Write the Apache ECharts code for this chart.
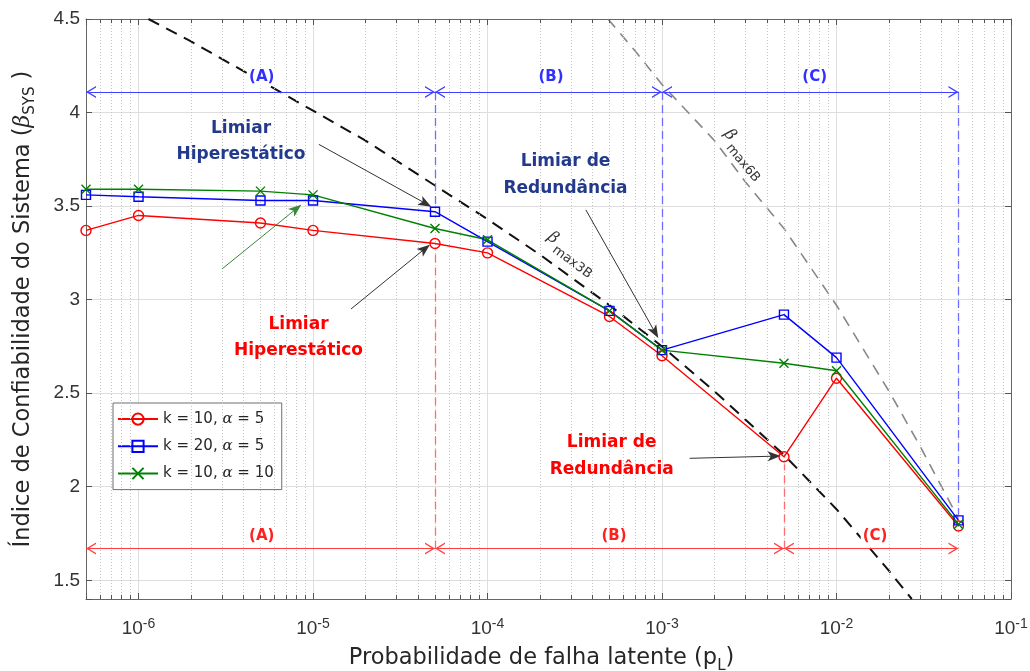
<!DOCTYPE html>
<html><head><meta charset="utf-8">
<script src="https://cdn.jsdelivr.net/npm/echarts@6/dist/echarts.min.js"></script>
<style>html,body{margin:0;padding:0;background:#fff}#c{width:1030px;height:671px}</style>
</head><body><div id="c"></div>
<script>
// ---------- data ----------
const pL = [5e-7, 1e-6, 5e-6, 1e-5, 5e-5, 1e-4, 5e-4, 1e-3, 5e-3, 1e-2, 5e-2];
const betaK10A5  = [3.37, 3.45, 3.41, 3.37, 3.30, 3.25, 2.91, 2.70, 2.16, 2.58, 1.79];
const betaK20A5  = [3.56, 3.55, 3.53, 3.53, 3.47, 3.31, 2.94, 2.73, 2.92, 2.69, 1.82];
const betaK10A10 = [3.59, 3.59, 3.58, 3.56, 3.38, 3.32, 2.94, 2.73, 2.66, 2.62, 1.80];
const seriesNames = ['k = 10, α = 5', 'k = 20, α = 5', 'k = 10, α = 10'];
const legendLabels = ['k = 10, {i|α} = 5', 'k = 20, {i|α} = 5', 'k = 10, {i|α} = 10'];

const max3B_p    = [1.14e-6, 2e-6, 5e-6, 1e-5, 2e-5, 5e-5, 1e-4, 2e-4, 5e-4, 1e-3, 2e-3, 5e-3, 1e-2, 2e-2, 2.7e-2];
const max3B_beta = [4.50, 4.38, 4.17, 4.01, 3.85, 3.61, 3.43, 3.24, 2.97, 2.75, 2.51, 2.17, 1.88, 1.55, 1.40];
const max6B_p    = [4.9e-4, 7e-4, 1e-3, 2e-3, 3e-3, 5e-3, 1e-2, 2e-2, 3e-2, 5e-2];
const max6B_beta = [4.50, 4.33, 4.15, 3.85, 3.63, 3.38, 2.97, 2.51, 2.22, 1.83];

const yTickLabels = [1.5, 2, 2.5, 3, 3.5, 4, 4.5];

// regions
const blueBounds = [5e-7, 5e-5, 1e-3, 5e-2];
const redBounds  = [5e-7, 5e-5, 5e-3, 5e-2];
const regionNames = ['(A)', '(B)', '(C)'];
const blueArrowBeta = 4.11, redArrowBeta = 1.67;
const blueDashEnds = [3.49, 2.77, 1.85];   // at blueBounds[1..3]
const redDashEnds  = [3.27, 2.12];         // at redBounds[1..2]

// annotation arrows: [fromP, fromBeta, toP, toBeta]
const annoArrows = [
  [1.08e-5, 3.83, 4.7e-5, 3.50],
  [3.66e-4, 3.48, 9.45e-4, 2.80],
  [1.65e-5, 2.95, 4.62e-5, 3.29],
  [1.44e-3, 2.152, 4.72e-3, 2.164]
];
const greenArrow = [3.01e-6, 3.164, 8.47e-6, 3.504];

// ---------- setup ----------
const FONT = 'DejaVu Sans';
const TICKFONT = 'Liberation Sans';
const X_MIN = 5e-7, X_MAX = 0.1, Y_MIN = 1.4, Y_MAX = 4.5;
const RED = '#ff0000', BLUE = '#0000ff', GREEN = '#008000';
const zip = (xs, ys) => xs.map((x, i) => [x, ys[i]]);

const minorVals = [];
for (let e = -7; e <= -2; e++) for (let m = 2; m <= 9; m++) {
  const v = +(m * Math.pow(10, e)).toPrecision(3);
  if (v > X_MIN * 1.0001 && v < X_MAX) minorVals.push(v);
}
const tickLen = 0.022;

// open chevron, tip at the symbol centre
const chevron = 'path://M5,0L5.01,0.01ZM0,20L5,10L10,20L8.7,20L5,12.6L1.3,20Z';
// filled arrowhead, tip at the symbol centre
const arrowHead = 'path://M5,0L5.01,0.01ZM5,10L9.5,22L5,19L0.5,22Z';

const gridMarks = minorVals.map(v => [{coord: [v, Y_MIN]}, {coord: [v, Y_MAX]}]);
const tickMarks = [];
minorVals.forEach(v => {
  tickMarks.push([{coord: [v, Y_MIN]}, {coord: [v, Y_MIN + tickLen]}]);
  tickMarks.push([{coord: [v, Y_MAX]}, {coord: [v, Y_MAX - tickLen]}]);
});

function regionSegs(bounds, beta) {
  const out = [];
  for (let i = 0; i < 3; i++) out.push([{coord: [bounds[i], beta]}, {coord: [bounds[i + 1], beta]}]);
  return out;
}
function dashSegs(bounds, beta, ends) {
  return ends.map((b, i) => [{coord: [bounds[i + 1], beta]}, {coord: [bounds[i + 1], b]}]);
}
const annoLines = annoArrows.map(a => [{coord: [a[0], a[1]]}, {coord: [a[2], a[3]]}]);
const greenLines = [[{coord: [greenArrow[0], greenArrow[1]]}, {coord: [greenArrow[2], greenArrow[3]]}]];

function helper(name, data, lineStyle, opts, z) {
  return {
    type: 'line', name: name, data: [], silent: true, animation: false, z: z,
    markLine: Object.assign({silent: true, animation: false, symbol: 'none', precision: 12,
      lineStyle: lineStyle, itemStyle: {color: lineStyle.color},
      label: {show: false}, emphasis: {disabled: true}, data: data}, opts || {})
  };
}

function dataSeries(name, ys, color, symbol, size) {
  return {
    type: 'line', name: name, data: zip(pL, ys), z: 5, animation: false,
    symbol: symbol, symbolSize: size, showAllSymbol: true,
    lineStyle: {color: color, width: 1.4},
    itemStyle: {color: 'none', borderColor: color, borderWidth: 1.4},
    emphasis: {disabled: true}
  };
}

function txt(x, y, t, color, lh) {
  return {type: 'text', x: x, y: y, z: 100, silent: true,
    style: {text: t, font: 'bold 17px "DejaVu Sans"', fill: color, align: 'center', verticalAlign: 'middle',
      textAlign: 'center', textVerticalAlign: 'middle', lineHeight: lh}};
}
function lab(x, y, t, color) {
  return {type: 'text', x: x, y: y, z: 100, silent: true,
    style: {text: t, font: 'bold 15px "DejaVu Sans"', fill: color, align: 'center', verticalAlign: 'middle',
      textAlign: 'center', textVerticalAlign: 'middle', backgroundColor: '#fff', padding: [1, 2]}};
}
function betaLab(x, y, rot, sub) {
  return {type: 'group', x: x, y: y, rotation: rot, z: 100, silent: true, children: [
    {type: 'text', x: 0, y: 0, style: {text: 'β', font: 'italic 16px "DejaVu Serif"', fill: '#333',
      align: 'center', verticalAlign: 'middle', textAlign: 'center', textVerticalAlign: 'middle'}},
    {type: 'text', x: 7, y: 8, style: {text: sub, font: '13px "DejaVu Sans"', fill: '#333',
      align: 'left', verticalAlign: 'middle', textAlign: 'left', textVerticalAlign: 'middle'}}
  ]};
}

const option = {
  backgroundColor: '#fff',
  animation: false,
  grid: {left: 86, right: 19, top: 19, bottom: 72, containLabel: false, outerBoundsMode: 'none'},
  xAxis: [{
    type: 'log', logBase: 10, min: X_MIN, max: X_MAX, position: 'bottom',
    name: 'Probabilidade de falha latente (p{sub|L})', nameLocation: 'middle', nameGap: 41,
    nameTextStyle: {fontFamily: FONT, fontSize: 22.5, color: '#262626', lineHeight: 30, padding: [0, 14, 0, 0],
      rich: {sub: {fontFamily: FONT, fontSize: 15, lineHeight: 15, verticalAlign: 'bottom', color: '#262626'}}},
    axisLine: {show: true, lineStyle: {color: '#666', width: 1}},
    axisTick: {show: true, inside: true, length: 6, lineStyle: {color: '#555'}},
    splitLine: {show: true, lineStyle: {color: '#dedede', width: 1}},
    axisLabel: {
      margin: 18, color: '#333', fontFamily: TICKFONT, fontSize: 19,
      formatter: v => {
        const e = Math.round(Math.log10(v));
        if (Math.abs(v / Math.pow(10, e) - 1) > 1e-6) return '';
        return '{b|10}{sup|' + e + '}';
      },
      rich: {
        b: {fontFamily: TICKFONT, fontSize: 19, color: '#333', lineHeight: 24},
        sup: {fontFamily: TICKFONT, fontSize: 14, color: '#333', lineHeight: 14, verticalAlign: 'top'}
      }
    }
  }, {
    type: 'log', logBase: 10, min: X_MIN, max: X_MAX, position: 'top',
    axisLine: {show: true, lineStyle: {color: '#666', width: 1}},
    axisTick: {show: true, inside: true, length: 6, lineStyle: {color: '#555'}},
    splitLine: {show: false}, axisLabel: {show: false}
  }],
  yAxis: [{
    type: 'value', min: Y_MIN, max: Y_MAX, position: 'left', splitNumber: 6,
    name: 'Índice de Confiabilidade do Sistema ({it|β}{sub|SYS} )', nameLocation: 'middle', nameGap: 48,
    nameTextStyle: {fontFamily: FONT, fontSize: 22.5, color: '#262626', lineHeight: 30,
      rich: {
        it: {fontFamily: 'DejaVu Serif', fontStyle: 'italic', fontSize: 22, color: '#262626', lineHeight: 30},
        sub: {fontFamily: FONT, fontSize: 15, lineHeight: 15, verticalAlign: 'bottom', color: '#262626'}
      }},
    axisLine: {show: true, lineStyle: {color: '#666', width: 1}},
    axisTick: {show: true, inside: true, length: 6, lineStyle: {color: '#555'}},
    splitLine: {show: true, lineStyle: {color: '#dedede', width: 1}},
    axisLabel: {margin: 6, color: '#333', fontFamily: TICKFONT, fontSize: 19,
      formatter: v => yTickLabels.some(t => Math.abs(t - v) < 1e-6) ? String(v) : ''}
  }, {
    type: 'value', min: Y_MIN, max: Y_MAX, position: 'right', splitNumber: 6,
    axisLine: {show: true, lineStyle: {color: '#666', width: 1}},
    axisTick: {show: true, inside: true, length: 6, lineStyle: {color: '#555'}},
    splitLine: {show: false}, axisLabel: {show: false}
  }],
  legend: {
    show: true, orient: 'vertical', left: 113, top: 403,
    data: seriesNames, itemWidth: 40, itemHeight: 14, itemGap: 11,
    padding: [8, 8, 8, 4], backgroundColor: '#fff', borderColor: '#6f6f6f', borderWidth: 1,
    selectedMode: false,
    textStyle: {fontFamily: FONT, fontSize: 15, color: '#262626',
      rich: {i: {fontFamily: 'DejaVu Serif', fontStyle: 'italic', fontSize: 15, color: '#262626'}}},
    formatter: n => legendLabels[seriesNames.indexOf(n)]
  },
  series: [
    helper('grid', gridMarks, {type: [1, 2], color: '#c4c4c4', width: 1}, null, 0),
    helper('ticks', tickMarks, {color: '#555', width: 1, type: 'solid'}, null, 1),
    {type: 'line', name: 'max3B', data: zip(max3B_p, max3B_beta), showSymbol: false, z: 3,
      lineStyle: {color: '#111', width: 2, type: [12, 8]}, silent: true, emphasis: {disabled: true}},
    {type: 'line', name: 'max6B', data: zip(max6B_p, max6B_beta), showSymbol: false, z: 3,
      lineStyle: {color: '#888', width: 1.6, type: [11, 8]}, silent: true, emphasis: {disabled: true}},
    helper('blueDash', dashSegs(blueBounds, blueArrowBeta, blueDashEnds), {color: '#6e6eff', width: 1.3, type: [8, 5]}, null, 4),
    helper('redDash', dashSegs(redBounds, redArrowBeta, redDashEnds), {color: '#ff6e6e', width: 1.3, type: [8, 5]}, null, 4),
    dataSeries(seriesNames[0], betaK10A5, RED, 'circle', 10),
    dataSeries(seriesNames[1], betaK20A5, BLUE, 'rect', 9),
    dataSeries(seriesNames[2], betaK10A10, GREEN, 'path://M0,0L10,10M10,0L0,10', 9),
    helper('blueRegions', regionSegs(blueBounds, blueArrowBeta), {color: '#4040ff', width: 1, type: 'solid'},
      {symbol: [chevron, chevron], symbolSize: [12, 20]}, 6),
    helper('redRegions', regionSegs(redBounds, redArrowBeta), {color: '#ff4040', width: 1, type: 'solid'},
      {symbol: [chevron, chevron], symbolSize: [12, 20]}, 6),
    helper('anno', annoLines, {color: '#333', width: 1, type: 'solid'},
      {symbol: ['none', arrowHead], symbolSize: [10, 24]}, 7),
    helper('annoGreen', greenLines, {color: '#3a883a', width: 1, type: 'solid'},
      {symbol: ['none', arrowHead], symbolSize: [10, 24]}, 7)
  ],
  graphic: [
    txt(241, 142, 'Limiar\nHiperestático', '#233a8c', 26),
    txt(565.5, 175.5, 'Limiar de\nRedundância', '#233a8c', 27),
    txt(298.5, 338, 'Limiar\nHiperestático', RED, 26),
    txt(611.7, 456.5, 'Limiar de\nRedundância', RED, 27),
    lab(261.7, 77, regionNames[0], '#3030ff'),
    lab(551, 77, regionNames[1], '#3030ff'),
    lab(814.7, 77, regionNames[2], '#3030ff'),
    lab(261.7, 536, regionNames[0], '#ff2020'),
    lab(614, 536, regionNames[1], '#ff2020'),
    lab(875, 536, regionNames[2], '#ff2020'),
    betaLab(553, 238, -0.64, 'max3B'),
    betaLab(730, 135, -0.88, 'max6B')
  ]
};

const chart = echarts.init(document.getElementById('c'));
chart.setOption(option);
</script></body></html>
